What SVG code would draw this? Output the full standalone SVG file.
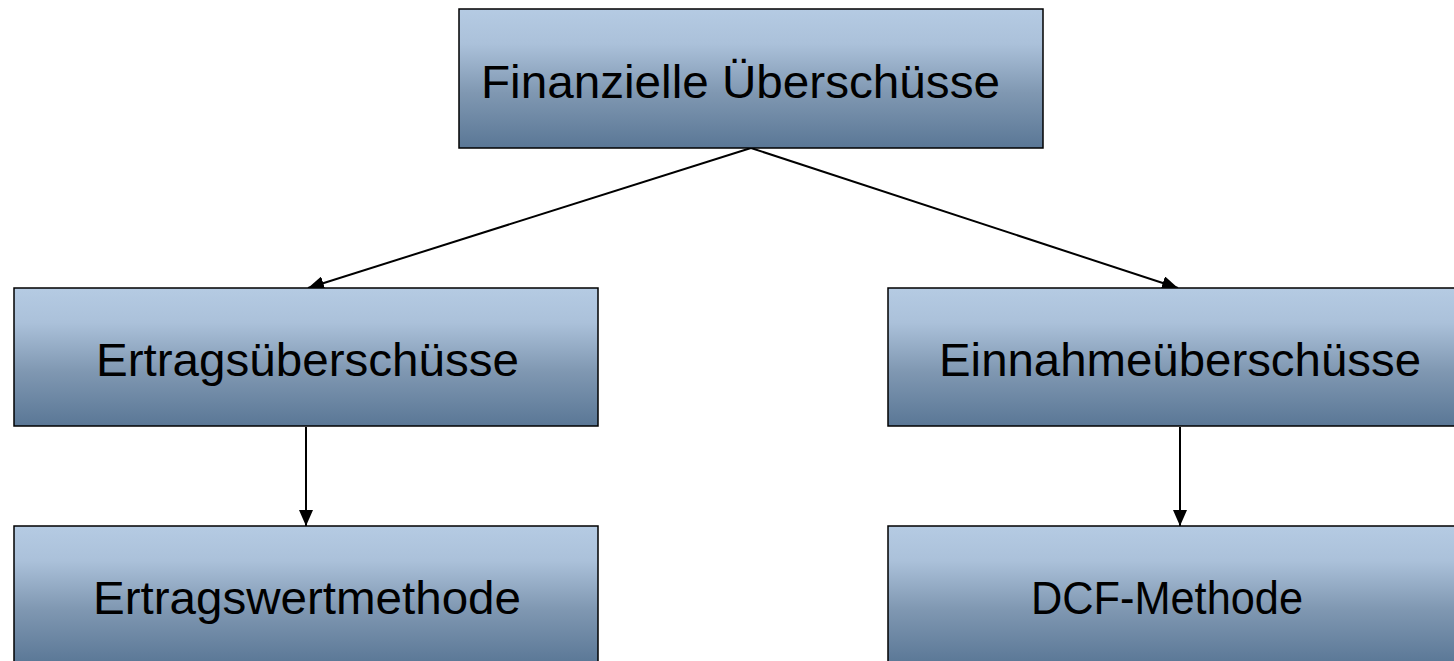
<svg xmlns="http://www.w3.org/2000/svg" width="1454" height="661" viewBox="0 0 1454 661">
<style>
.box{fill:url(#g);stroke:#000;stroke-width:1.5}
.t{font-family:"Liberation Sans",Arial,sans-serif;font-size:47px;fill:#000}
.c{stroke:#000;stroke-width:2;fill:none;marker-end:url(#ah)}
</style>
<defs>
<linearGradient id="g" x1="0" y1="0" x2="0" y2="1">
<stop offset="0" stop-color="#b5cbe3"/>
<stop offset="0.25" stop-color="#abc1da"/>
<stop offset="0.6" stop-color="#8098b2"/>
<stop offset="1" stop-color="#5a7796"/>
</linearGradient>
<marker id="ah" viewBox="0 0 16 14" refX="16" refY="7" markerWidth="16" markerHeight="14" markerUnits="userSpaceOnUse" orient="auto">
<path d="M0,0 L16,7 L0,14 z" fill="#000"/>
</marker>
</defs>
<g id="connectors">
<line class="c" x1="751" y1="148" x2="308" y2="288"/>
<line class="c" x1="751" y1="148" x2="1178" y2="288"/>
<line class="c" x1="306" y1="427" x2="306" y2="526"/>
<line class="c" x1="1180" y1="427" x2="1180" y2="526"/>
</g>
<g id="n-finanz">
<rect class="box" x="459" y="9" width="584" height="139"/>
<text class="t" x="481" y="98" textLength="519" lengthAdjust="spacingAndGlyphs">Finanzielle Überschüsse</text>
</g>
<g id="n-ertrag">
<rect class="box" x="14" y="288" width="584" height="138"/>
<text class="t" x="96" y="376" textLength="423" lengthAdjust="spacingAndGlyphs">Ertragsüberschüsse</text>
</g>
<g id="n-einnahme">
<rect class="box" x="888" y="288" width="584" height="138"/>
<text class="t" x="939" y="376" textLength="482" lengthAdjust="spacingAndGlyphs">Einnahmeüberschüsse</text>
</g>
<g id="n-ertragswert">
<rect class="box" x="14" y="526" width="584" height="138"/>
<text class="t" x="93" y="614" textLength="428" lengthAdjust="spacingAndGlyphs">Ertragswertmethode</text>
</g>
<g id="n-dcf">
<rect class="box" x="888" y="526" width="584" height="138"/>
<text class="t" x="1031" y="614" textLength="272" lengthAdjust="spacingAndGlyphs">DCF-Methode</text>
</g>
</svg>
